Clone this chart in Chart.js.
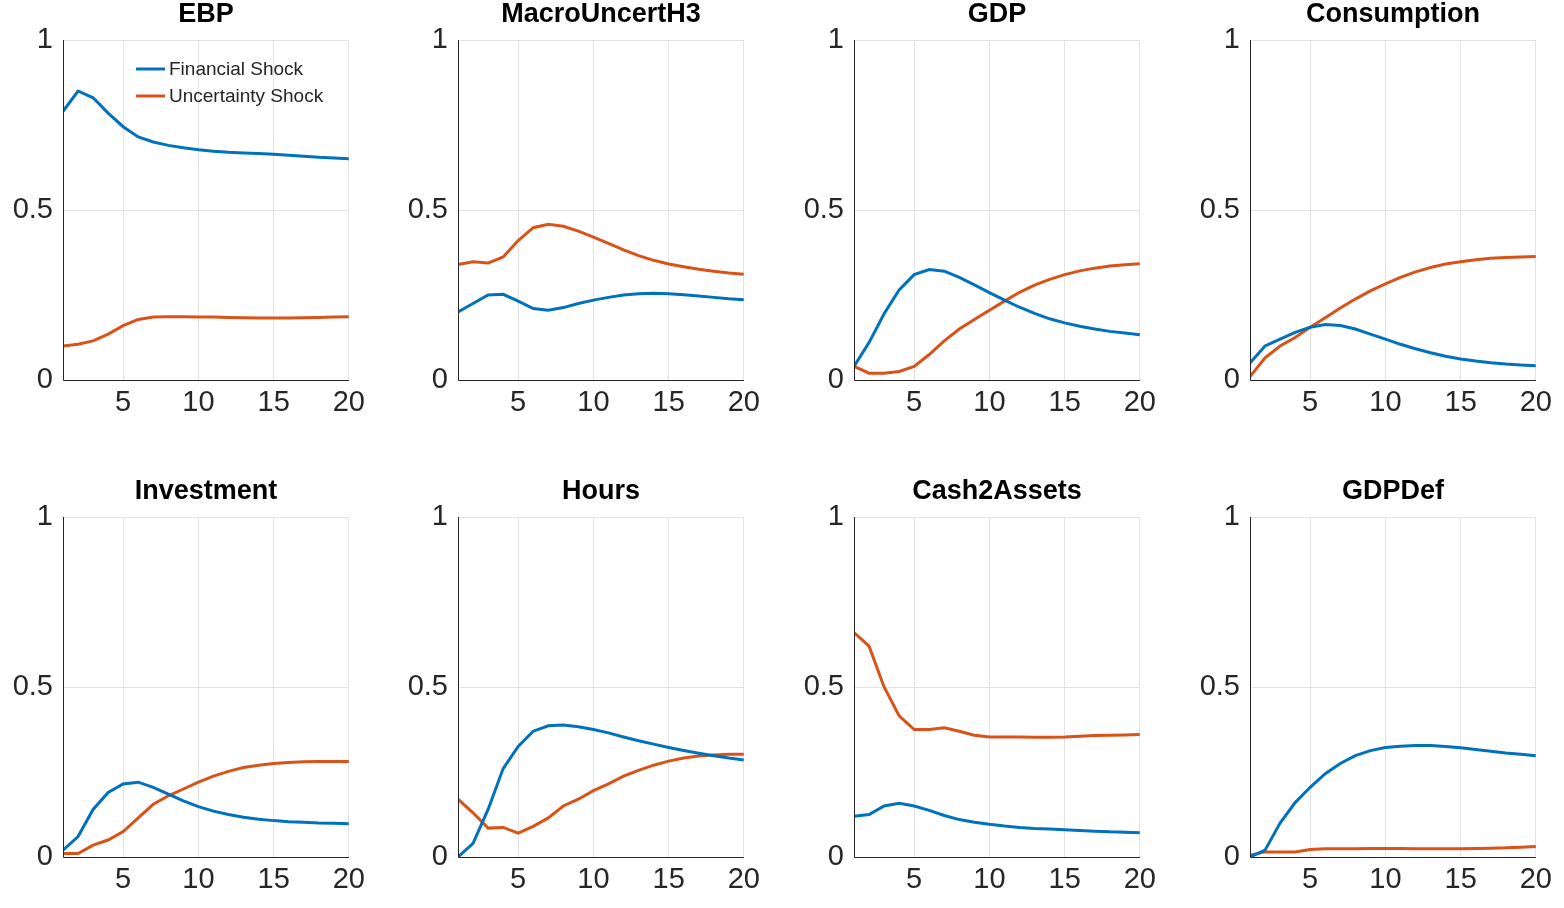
<!DOCTYPE html>
<html><head><meta charset="utf-8">
<script src="https://cdn.jsdelivr.net/npm/chart.js@4"></script>
<style>body{margin:0;background:#fff;width:1564px;height:908px;position:relative;overflow:hidden}canvas{position:absolute}</style>
</head><body>
<script>
const titles=["EBP","MacroUncertH3","GDP","Consumption","Investment","Hours","Cash2Assets","GDPDef"];
const xTicks=[5,10,15,20];
const yTicks=[0,0.5,1];
const legendLabels=["Financial Shock","Uncertainty Shock"];
const financial=[
[0.79,0.85,0.83,0.785,0.745,0.715,0.70,0.69,0.683,0.677,0.673,0.67,0.668,0.666,0.664,0.661,0.658,0.655,0.653,0.651],
[0.2,0.225,0.25,0.252,0.232,0.21,0.205,0.213,0.225,0.235,0.243,0.25,0.254,0.255,0.254,0.251,0.247,0.243,0.239,0.236],
[0.04,0.11,0.195,0.265,0.31,0.325,0.32,0.302,0.28,0.257,0.235,0.214,0.196,0.18,0.168,0.158,0.15,0.143,0.138,0.133],
[0.05,0.1,0.12,0.14,0.155,0.163,0.16,0.15,0.135,0.12,0.105,0.092,0.08,0.07,0.062,0.056,0.051,0.047,0.044,0.042],
[0.02,0.06,0.14,0.19,0.215,0.22,0.205,0.185,0.165,0.148,0.135,0.125,0.117,0.111,0.107,0.104,0.102,0.1,0.099,0.098],
[0.0,0.04,0.14,0.26,0.325,0.37,0.386,0.388,0.383,0.375,0.365,0.353,0.342,0.332,0.322,0.313,0.305,0.298,0.291,0.285],
[0.12,0.125,0.15,0.158,0.15,0.137,0.122,0.11,0.102,0.096,0.091,0.087,0.084,0.082,0.08,0.078,0.076,0.074,0.073,0.071],
[0.0,0.02,0.1,0.16,0.205,0.245,0.275,0.298,0.313,0.322,0.326,0.328,0.328,0.325,0.321,0.316,0.311,0.306,0.302,0.298]];
const uncertainty=[
[0.10,0.105,0.115,0.135,0.16,0.178,0.185,0.186,0.186,0.185,0.185,0.184,0.183,0.182,0.182,0.182,0.183,0.184,0.185,0.186],
[0.34,0.348,0.344,0.362,0.41,0.448,0.458,0.452,0.438,0.42,0.402,0.383,0.366,0.352,0.341,0.333,0.326,0.32,0.315,0.311],
[0.04,0.02,0.02,0.025,0.04,0.075,0.115,0.15,0.178,0.205,0.232,0.258,0.279,0.296,0.31,0.321,0.329,0.335,0.339,0.342],
[0.01,0.065,0.1,0.125,0.155,0.183,0.212,0.238,0.262,0.283,0.302,0.318,0.331,0.341,0.348,0.354,0.358,0.36,0.362,0.363],
[0.01,0.01,0.035,0.05,0.075,0.115,0.155,0.18,0.2,0.22,0.238,0.252,0.263,0.27,0.275,0.278,0.28,0.281,0.281,0.281],
[0.17,0.13,0.085,0.087,0.07,0.09,0.115,0.15,0.17,0.195,0.215,0.238,0.255,0.27,0.282,0.291,0.297,0.3,0.302,0.302],
[0.66,0.62,0.5,0.415,0.375,0.375,0.38,0.37,0.358,0.353,0.353,0.353,0.352,0.352,0.353,0.355,0.357,0.358,0.359,0.36],
[0.005,0.015,0.015,0.015,0.022,0.024,0.024,0.024,0.025,0.025,0.025,0.024,0.024,0.024,0.024,0.025,0.026,0.027,0.029,0.031]];
const BLUE='#0072BD',RED='#D95319';
const lefts=[63,458,854,1250],tops=[40,517];
const PW=294,PH=340,YW=60,XH=45,TOPPAD=40;
const font="'Liberation Sans', Arial, sans-serif";
for(let i=0;i<8;i++){
  const c=document.createElement('canvas');
  const L=lefts[i%4]-YW, T=tops[Math.floor(i/4)]-TOPPAD;
  const W=YW+PW+14, H=TOPPAD+PH+XH;
  c.style.left=L+'px';c.style.top=T+'px';c.style.width=W+'px';c.style.height=H+'px';
  c.width=W;c.height=H;document.body.appendChild(c);
  const mk=a=>a.map((v,k)=>({x:k+1,y:v}));
  const deco={id:'deco',afterDraw(ch){
    const ctx=ch.ctx,a=ch.chartArea;ctx.save();
    ctx.fillStyle='#000';ctx.font="bold 27px "+font;ctx.textAlign='center';ctx.textBaseline='middle';
    ctx.fillText(titles[i],(a.left+a.right)/2,15);
    ctx.strokeStyle='#262626';ctx.lineWidth=1;ctx.beginPath();
    ctx.moveTo(a.left+0.5,a.top);ctx.lineTo(a.left+0.5,a.bottom+0.5);ctx.lineTo(a.right,a.bottom+0.5);ctx.stroke();
    if(i===0){
      ctx.font="19px "+font;ctx.textAlign='left';ctx.lineWidth=3;
      [[BLUE,69],[RED,96]].forEach(([col,y],k)=>{
        ctx.strokeStyle=col;ctx.beginPath();ctx.moveTo(a.left+73,y);ctx.lineTo(a.left+102,y);ctx.stroke();
        ctx.fillStyle='#262626';ctx.fillText(legendLabels[k],a.left+106,y+1);
      });
    }
    ctx.restore();}};
  new Chart(c,{type:'line',
    data:{datasets:[
      {data:mk(financial[i]),borderColor:BLUE,borderWidth:3,pointRadius:0,tension:0},
      {data:mk(uncertainty[i]),borderColor:RED,borderWidth:3,pointRadius:0,tension:0}]},
    options:{responsive:false,animation:false,devicePixelRatio:1,
      layout:{padding:{top:TOPPAD,right:14,left:0,bottom:0}},
      plugins:{legend:{display:false},tooltip:{enabled:false}},
      scales:{
        x:{type:'linear',min:1,max:20,
          afterBuildTicks:s=>{s.ticks=xTicks.map(v=>({value:v}));},
          afterFit:s=>{s.height=XH;},
          border:{display:false},
          grid:{color:'#e3e3e3',drawTicks:false},
          ticks:{color:'#262626',font:{size:29,family:font},padding:6,maxRotation:0}},
        y:{min:0,max:1,
          afterBuildTicks:s=>{s.ticks=yTicks.map(v=>({value:v}));},
          afterFit:s=>{s.width=YW;},
          border:{display:false},
          grid:{color:'#e3e3e3',drawTicks:false},
          ticks:{color:'#262626',font:{size:29,family:font},padding:10,callback:v=>String(v)}}}},
    plugins:[deco]});
}
</script>
</body></html>
